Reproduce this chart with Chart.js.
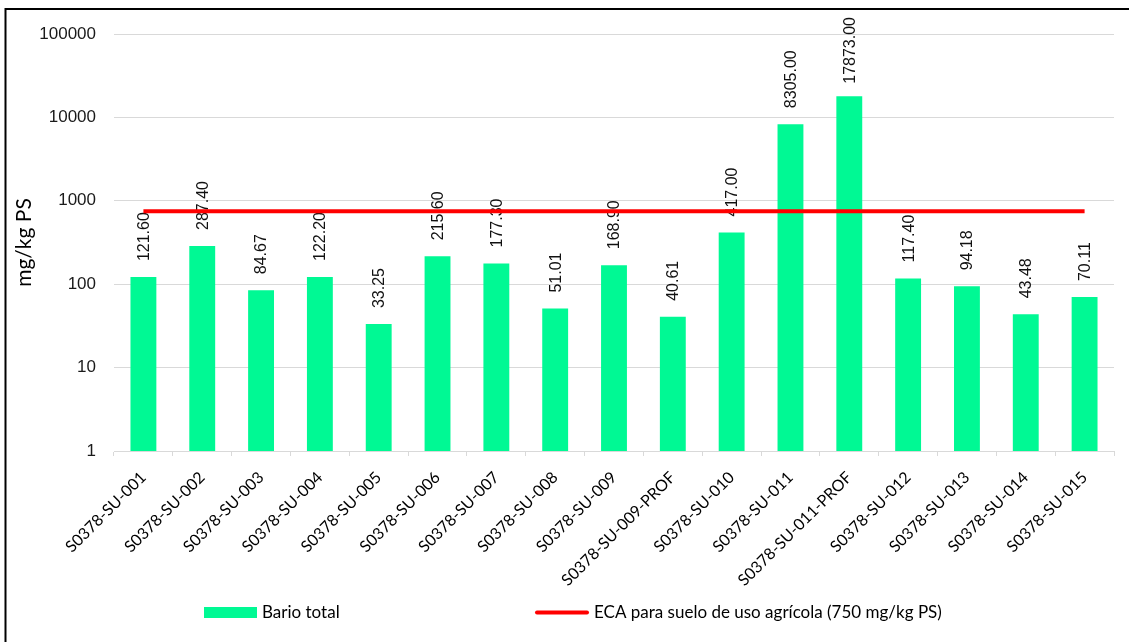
<!DOCTYPE html>
<html>
<head>
<meta charset="utf-8">
<script src="https://cdn.jsdelivr.net/npm/chart.js@4.4.1/dist/chart.umd.min.js"></script>
<style>
  html, body { margin: 0; padding: 0; background: #fff; }
  #c { display: block; }
</style>
</head>
<body>
<canvas id="c" width="1129" height="642"></canvas>
<script>
const categories = [
  "S0378-SU-001", "S0378-SU-002", "S0378-SU-003", "S0378-SU-004", "S0378-SU-005",
  "S0378-SU-006", "S0378-SU-007", "S0378-SU-008", "S0378-SU-009", "S0378-SU-009-PROF",
  "S0378-SU-010", "S0378-SU-011", "S0378-SU-011-PROF", "S0378-SU-012", "S0378-SU-013",
  "S0378-SU-014", "S0378-SU-015"
];
const barioTotal = [121.60, 287.40, 84.67, 122.20, 33.25, 215.60, 177.30, 51.01, 168.90, 40.61,
  417.00, 8305.00, 17873.00, 117.40, 94.18, 43.48, 70.11];
const ecaLimit = [750, 750, 750, 750, 750, 750, 750, 750, 750, 750, 750, 750, 750, 750, 750, 750, 750];
const yTicks = [1, 10, 100, 1000, 10000, 100000];
const seriesNames = ["Bario total", "ECA para suelo de uso agrícola (750 mg/kg PS)"];
const yTitle = "mg/kg PS";

const GREEN = "#00F994";
const RED = "#FF0000";

const framePlugin = {
  id: "frame",
  beforeDraw(chart) {
    const ctx = chart.ctx;
    ctx.save();
    ctx.fillStyle = "#fff";
    ctx.fillRect(0, 0, chart.width, chart.height);
    ctx.strokeStyle = "#000";
    ctx.lineWidth = 2;
    ctx.beginPath();
    ctx.moveTo(5.5, chart.height + 2);
    ctx.lineTo(5.5, 9);
    ctx.lineTo(chart.width + 2, 9);
    ctx.stroke();
    ctx.restore();
  }
};

const labelPlugin = {
  id: "barLabels",
  afterDatasetDraw(chart, args) {
    if (args.index !== 0) return;
    const ctx = chart.ctx;
    const meta = chart.getDatasetMeta(0);
    ctx.save();
    ctx.font = "16px 'Liberation Sans', Arial, sans-serif";
    ctx.fillStyle = "#111";
    ctx.textAlign = "left";
    ctx.textBaseline = "middle";
    meta.data.forEach((el, i) => {
      const txt = chart.data.datasets[0].data[i].toFixed(2);
      const w = ctx.measureText(txt).width;
      let y = el.y - 16;
      if (y - w < 17) y = 17 + w;
      ctx.save();
      ctx.translate(el.x + 1, y);
      ctx.rotate(-Math.PI / 2);
      ctx.fillText(txt, 0, 0);
      ctx.restore();
    });
    ctx.restore();
  }
};

const legendPlugin = {
  id: "customLegend",
  afterDraw(chart) {
    const ctx = chart.ctx;
    const ds = chart.data.datasets;
    const cy = 612.5;
    ctx.save();
    ctx.font = "17px Lato, 'Liberation Sans', sans-serif";
    ctx.textBaseline = "middle";
    ctx.textAlign = "left";
    ctx.fillStyle = ds[0].backgroundColor;
    ctx.fillRect(204, cy - 5.5, 53, 11);
    ctx.fillStyle = "#000";
    ctx.fillText(ds[0].label, 262, cy);
    ctx.strokeStyle = ds[1].borderColor;
    ctx.lineWidth = 4;
    ctx.lineCap = "round";
    ctx.beginPath();
    ctx.moveTo(537, cy);
    ctx.lineTo(587, cy);
    ctx.stroke();
    ctx.fillStyle = "#000";
    ctx.fillText(ds[1].label, 594, cy);
    ctx.restore();
  }
};

new Chart(document.getElementById("c"), {
  data: {
    labels: categories,
    datasets: [
      {
        type: "bar",
        label: seriesNames[0],
        data: barioTotal,
        backgroundColor: GREEN,
        borderWidth: 0,
        categoryPercentage: 1,
        barPercentage: 0.44,
        order: 2
      },
      {
        type: "line",
        label: seriesNames[1],
        data: ecaLimit,
        borderColor: RED,
        backgroundColor: RED,
        borderWidth: 4,
        pointRadius: 0,
        fill: false,
        order: 1
      }
    ]
  },
  options: {
    responsive: false,
    animation: false,
    devicePixelRatio: 1,
    layout: { padding: { top: 34, right: 15, left: 0, bottom: 0 } },
    plugins: {
      legend: { display: false },
      tooltip: { enabled: false }
    },
    scales: {
      x: {
        type: "category",
        offset: true,
        grid: {
          offset: true,
          drawOnChartArea: false,
          drawTicks: true,
          tickLength: 5,
          color: "#d9d9d9",
          lineWidth: 1
        },
        border: { display: true, color: "#d9d9d9", width: 1 },
        ticks: {
          autoSkip: false,
          maxRotation: 45,
          minRotation: 45,
          padding: 12,
          color: "#000",
          font: { family: "Lato, 'Liberation Sans', sans-serif", size: 16 }
        },
        afterFit(scale) { scale.height = 191; }
      },
      y: {
        type: "logarithmic",
        min: 1,
        max: 100000,
        afterBuildTicks(scale) { scale.ticks = yTicks.map(v => ({ value: v })); },
        grid: { color: "#d9d9d9", lineWidth: 1, drawTicks: false },
        border: { display: false },
        ticks: {
          padding: 18,
          color: "#1a1a1a",
          font: { family: "'Liberation Sans', Arial, sans-serif", size: 17 },
          callback: (v) => String(v)
        },
        title: {
          display: true,
          text: yTitle,
          color: "#000",
          font: { family: "Lato, 'Liberation Sans', sans-serif", size: 21 },
          padding: { top: 12, bottom: 0 }
        },
        afterFit(scale) { scale.width = 114; }
      }
    }
  },
  plugins: [framePlugin, labelPlugin, legendPlugin]
});
</script>
</body>
</html>
